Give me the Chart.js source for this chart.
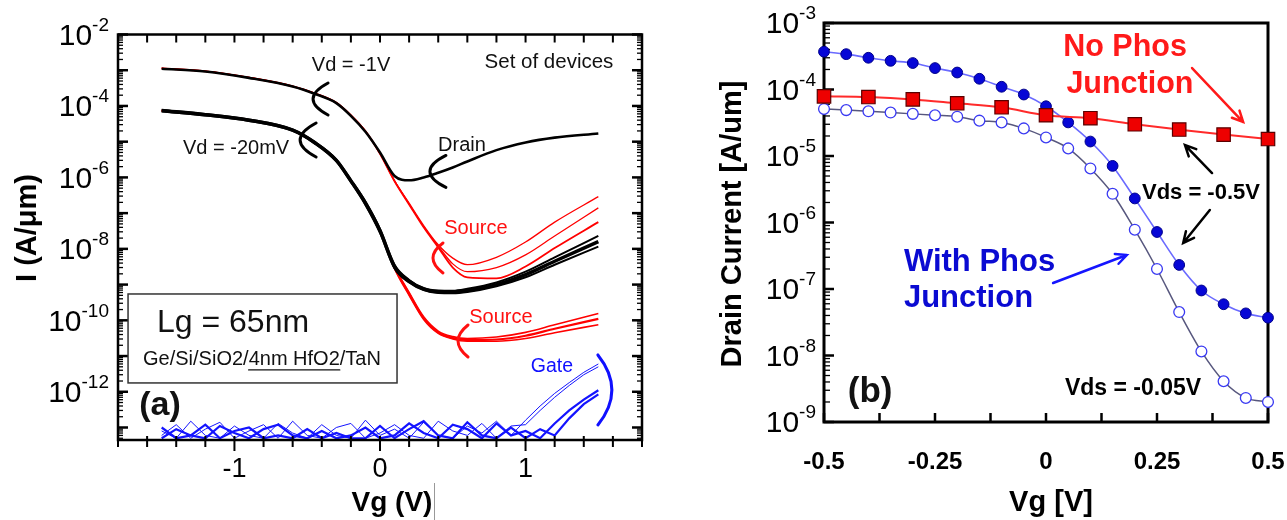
<!DOCTYPE html>
<html>
<head>
<meta charset="utf-8">
<script src="https://cdn.jsdelivr.net/npm/chart.js@4.4.1/dist/chart.umd.min.js"></script>
<style>
    html, body { margin: 0; padding: 0; background: #fff; }
    #wrap { position: relative; width: 1287px; height: 520px; overflow: hidden; }
    #boxA { position: absolute; left: 0; top: 0; width: 665px; height: 520px; }
    #boxB { position: absolute; left: 665px; top: 0; width: 622px; height: 520px; }
</style>
</head>
<body>
<div id="wrap">
    <div id="boxA"><canvas id="chartA"></canvas></div>
    <div id="boxB"><canvas id="chartB"></canvas></div>
</div>
<script>
// ─── Panel (a): Id / Is / Ig vs Vg, set of devices ───────────────────────
const vgA = [-1.5, -1.2, -0.9, -0.6, -0.45, -0.3, -0.2, -0.1, 0, 0.1, 0.2, 0.3, 0.4, 0.5, 0.6, 0.8, 1.0, 1.2, 1.5];

const drain1V      = [1.1e-3, 9.2e-4, 6.1e-4, 3.5e-4, 2.2e-4, 1.2e-4, 5.3e-5, 1.9e-5, 5.0e-6, 1.1e-6, 8.3e-7, 1.0e-6, 1.35e-6, 1.9e-6, 2.8e-6, 5.8e-6, 9.5e-6, 1.3e-5, 1.7e-5];
const source1Vhi   = [1.15e-3, 9.5e-4, 6.3e-4, 3.6e-4, 2.3e-4, 1.25e-4, 5.6e-5, 2.0e-5, 4.8e-6, 8.0e-7, 1.9e-7, 4.5e-8, 1.3e-8, 5.5e-9, 3.6e-9, 5.8e-9, 1.55e-8, 5.6e-8, 2.9e-7];
const source1Vmid  = [1.12e-3, 9.3e-4, 6.2e-4, 3.55e-4, 2.25e-4, 1.22e-4, 5.4e-5, 1.95e-5, 4.6e-6, 8.0e-7, 1.8e-7, 4.2e-8, 1.2e-8, 3.8e-9, 2.3e-9, 3.0e-9, 6.8e-9, 2.3e-8, 1.4e-7];
const source1Vlo   = [1.12e-3, 9.3e-4, 6.2e-4, 3.55e-4, 2.25e-4, 1.22e-4, 5.4e-5, 1.95e-5, 4.6e-6, 7.8e-7, 1.75e-7, 4.0e-8, 1.1e-8, 3.0e-9, 1.6e-9, 1.5e-9, 3.2e-9, 1.05e-8, 5.6e-8];

const drain20mV    = [7.4e-5, 5.7e-5, 4.0e-5, 2.1e-5, 9.5e-6, 3.0e-6, 8.0e-7, 1.9e-7, 3.2e-8, 3.2e-9, 1.25e-9, 7.5e-10, 6.3e-10, 6.2e-10, 6.8e-10, 1.0e-9, 1.9e-9, 4.5e-9, 1.6e-8];
const drain20mVlo  = [7.0e-5, 5.4e-5, 3.8e-5, 2.0e-5, 9.0e-6, 2.8e-6, 7.4e-7, 1.7e-7, 2.8e-8, 2.8e-9, 1.15e-9, 7.0e-10, 5.8e-10, 5.7e-10, 6.2e-10, 9.0e-10, 1.6e-9, 3.6e-9, 1.15e-8];
const drain20mVhi  = [7.8e-5, 6.0e-5, 4.2e-5, 2.2e-5, 1.0e-5, 3.2e-6, 8.6e-7, 2.1e-7, 3.6e-8, 3.6e-9, 1.35e-9, 8.0e-10, 6.8e-10, 6.7e-10, 7.6e-10, 1.15e-9, 2.3e-9, 5.8e-9, 2.3e-8];

const source20mVhi  = [7.4e-5, 5.7e-5, 4.0e-5, 2.1e-5, 9.5e-6, 3.0e-6, 8.0e-7, 1.9e-7, 3.2e-8, 3.2e-9, 6.0e-10, 1.25e-10, 5.0e-11, 3.5e-11, 3.1e-11, 3.4e-11, 4.6e-11, 7.5e-11, 1.55e-10];
const source20mVmid = [7.4e-5, 5.7e-5, 4.0e-5, 2.1e-5, 9.5e-6, 3.0e-6, 8.0e-7, 1.9e-7, 3.2e-8, 3.0e-9, 5.5e-10, 1.15e-10, 4.6e-11, 3.2e-11, 2.8e-11, 2.9e-11, 3.7e-11, 5.8e-11, 1.1e-10];
const source20mVlo  = [7.4e-5, 5.7e-5, 4.0e-5, 2.1e-5, 9.5e-6, 3.0e-6, 8.0e-7, 1.9e-7, 3.2e-8, 2.8e-9, 5.0e-10, 1.05e-10, 4.3e-11, 3.0e-11, 2.6e-11, 2.6e-11, 3.1e-11, 4.5e-11, 7.5e-11];

const vgGate     = [-1.5, -1.4, -1.3, -1.2, -1.1, -1.0, -0.9, -0.8, -0.7, -0.6, -0.5, -0.4, -0.3, -0.2, -0.1, 0, 0.1, 0.2, 0.3, 0.4, 0.5, 0.6, 0.7, 0.8, 0.9, 1.0, 1.1, 1.2, 1.3, 1.4, 1.5];
const gateThin1  = [8e-14, 5e-14, 1.5e-13, 6e-14, 5e-14, 1.1e-13, 6e-14, 5e-14, 1.3e-13, 7e-14, 5e-14, 1.2e-13, 6e-14, 5e-14, 1.6e-13, 6e-14, 9e-14, 5e-14, 1.4e-13, 6e-14, 5e-14, 1.1e-13, 7e-14, 1.5e-13, 6e-14, 1.6e-13, 4e-13, 9e-13, 1.8e-12, 3.5e-12, 6e-12];
const gateThin2  = [6e-14, 1.2e-13, 5e-14, 9e-14, 1.4e-13, 5e-14, 8e-14, 1.2e-13, 5e-14, 1.5e-13, 6e-14, 5e-14, 1.0e-13, 1.3e-13, 5e-14, 7e-14, 1.2e-13, 6e-14, 5e-14, 1.5e-13, 8e-14, 6e-14, 1.3e-13, 5e-14, 1.1e-13, 1.2e-13, 3e-13, 7e-13, 1.5e-12, 3e-12, 5e-12];
const gateThick1 = [5e-14, 9e-14, 6e-14, 5e-14, 1.1e-13, 7e-14, 5e-14, 9e-14, 1.2e-13, 6e-14, 5e-14, 8e-14, 5e-14, 6e-14, 1.0e-13, 5e-14, 6e-14, 1.3e-13, 7e-14, 5e-14, 1.2e-13, 9e-14, 5e-14, 1.3e-13, 6e-14, 8e-14, 5e-14, 1.3e-13, 3e-13, 6e-13, 1.1e-12];
const gateThick2 = [1.0e-13, 5e-14, 6e-14, 1.2e-13, 5e-14, 8e-14, 1.0e-13, 5e-14, 6e-14, 5e-14, 9e-14, 5e-14, 7e-14, 5e-14, 5e-14, 1.1e-13, 5e-14, 9e-14, 1.5e-13, 6e-14, 5e-14, 1.4e-13, 6e-14, 5e-14, 1.0e-13, 5e-14, 9e-14, 6e-14, 1.8e-13, 4.5e-13, 8.5e-13];

const xTickLabelsA = [-1, 0, 1];
const yTickExpA    = [-2, -4, -6, -8, -10, -12];

// ─── Panel (b): drain current, with / without phos junction ───────────────
const vgB          = [-0.5, -0.45, -0.4, -0.35, -0.3, -0.25, -0.2, -0.15, -0.1, -0.05, 0, 0.05, 0.1, 0.15, 0.2, 0.25, 0.3, 0.35, 0.4, 0.45, 0.5];
const withPhos05   = [3.7e-4, 3.4e-4, 3.0e-4, 2.7e-4, 2.5e-4, 2.1e-4, 1.8e-4, 1.45e-4, 1.1e-4, 8.4e-5, 5.6e-5, 3.2e-5, 1.65e-5, 7.1e-6, 2.3e-6, 7.2e-7, 2.3e-7, 9.5e-8, 5.9e-8, 4.3e-8, 3.7e-8];
const withPhos005  = [5.1e-5, 4.9e-5, 4.7e-5, 4.5e-5, 4.3e-5, 4.1e-5, 3.9e-5, 3.4e-5, 3.2e-5, 2.6e-5, 1.9e-5, 1.3e-5, 6.5e-6, 2.7e-6, 7.8e-7, 2.0e-7, 4.5e-8, 1.15e-8, 4.1e-9, 2.3e-9, 2.0e-9];
const vgNoPhos     = [-0.5, -0.4, -0.3, -0.2, -0.1, 0, 0.1, 0.2, 0.3, 0.4, 0.5];
const noPhos05     = [7.9e-5, 7.7e-5, 7.1e-5, 6.2e-5, 5.4e-5, 4.1e-5, 3.7e-5, 3.0e-5, 2.5e-5, 2.1e-5, 1.8e-5];

const xTickLabelsB = ['-0.5', '-0.25', '0', '0.25', '0.5'];
const yTickExpB    = [-3, -4, -5, -6, -7, -8, -9];

// ─── Drawing helpers ──────────────────────────────────────────────────────
const FONT = '"Liberation Sans", Arial, sans-serif';

function pts(xs, ys) {
    return xs.map((x, i) => ({ x, y: ys[i] }));
}

/** Pixel position of (Vg, 10^e) on a chart's own scales */
function at(chart, vx, e) {
    return {
        x: chart.scales.x.getPixelForValue(vx),
        y: chart.scales.y.getPixelForValue(Math.pow(10, e))
    };
}

function label(ctx, s, p, font, color, align) {
    ctx.font = font;
    ctx.fillStyle = color;
    ctx.textAlign = align || 'center';
    ctx.textBaseline = 'middle';
    ctx.fillText(s, p.x, p.y);
}

/** "10" with superscript exponent, right aligned at xr */
function powLabel(ctx, xr, y, exp, base, sup) {
    const s = String(exp);
    ctx.font = `${sup}px ${FONT}`;
    const ws = ctx.measureText(s).width;
    ctx.font = `${base}px ${FONT}`;
    const wb = ctx.measureText('10').width;
    ctx.fillStyle = '#000';
    ctx.textAlign = 'left';
    ctx.textBaseline = 'middle';
    ctx.fillText('10', xr - ws - wb, y + 2);
    ctx.font = `${sup}px ${FONT}`;
    ctx.fillText(s, xr - ws, y - 9);
}

function arrow(ctx, a, b, color, w) {
    ctx.strokeStyle = color;
    ctx.lineWidth = w;
    ctx.lineCap = 'round';
    ctx.beginPath();
    ctx.moveTo(a.x, a.y);
    ctx.lineTo(b.x, b.y);
    const ang = Math.atan2(b.y - a.y, b.x - a.x);
    const hl = 12;
    ctx.moveTo(b.x - hl * Math.cos(ang - 0.45), b.y - hl * Math.sin(ang - 0.45));
    ctx.lineTo(b.x, b.y);
    ctx.lineTo(b.x - hl * Math.cos(ang + 0.45), b.y - hl * Math.sin(ang + 0.45));
    ctx.stroke();
}

/** Curly "(" marker; dir = -1 flips it into ")" */
function bracket(ctx, p, h, w, dir, color) {
    ctx.strokeStyle = color;
    ctx.lineWidth = 3;
    ctx.lineCap = 'round';
    ctx.beginPath();
    ctx.moveTo(p.x + dir * w, p.y - h);
    ctx.quadraticCurveTo(p.x - dir * w, p.y, p.x + dir * w, p.y + h);
    ctx.stroke();
}

function logTicks(ctx, chart, xEdge, dir, majLen, minLen) {
    const y = chart.scales.y;
    for (let e = -14; e <= -2; e++) {
        for (let m = 1; m <= 9; m++) {
            const v = m * Math.pow(10, e);
            if (v < y.min * 0.999 || v > y.max * 1.001) continue;
            const py = y.getPixelForValue(v);
            ctx.lineWidth = m === 1 ? 2.5 : 1.3;
            ctx.beginPath();
            ctx.moveTo(xEdge, py);
            ctx.lineTo(xEdge + dir * (m === 1 ? majLen : minLen), py);
            ctx.stroke();
        }
    }
}

// ─── Panel (a) plugin: frame, ticks, labels, notes ────────────────────────
const panelA = {
    id: 'panelA',
    afterDatasetsDraw(chart) {
        const { ctx, chartArea: a, scales: { x } } = chart;
        ctx.save();
        ctx.strokeStyle = '#000';

        // Ticks
        ctx.lineCap = 'butt';
        logTicks(ctx, chart, a.left, 1, 10, 5);
        logTicks(ctx, chart, a.right, -1, 10, 5);
        for (let i = -9; i <= 9; i++) {
            const px = x.getPixelForValue(i * 0.2);
            const major = i % 5 === 0;
            ctx.lineWidth = 2;
            ctx.beginPath();
            ctx.moveTo(px, a.bottom - 4);
            ctx.lineTo(px, a.bottom + (major ? 11 : 7));
            ctx.moveTo(px, a.top);
            ctx.lineTo(px, a.top + 8);
            ctx.stroke();
        }

        // Frame
        ctx.lineWidth = 2.5;
        ctx.strokeRect(a.left, a.top, a.right - a.left, a.bottom - a.top);

        // Tick labels
        xTickLabelsA.forEach(v => {
            label(ctx, String(v), { x: x.getPixelForValue(v), y: 470 }, `27px ${FONT}`, '#000');
        });
        yTickExpA.forEach(e => {
            powLabel(ctx, a.left - 9, chart.scales.y.getPixelForValue(Math.pow(10, e)), e, 30, 19);
        });

        // Axis titles
        label(ctx, 'Vg (V)', { x: 392, y: 503 }, `bold 28px ${FONT}`, '#000');
        ctx.strokeStyle = '#999';
        ctx.lineWidth = 1;
        ctx.beginPath();
        ctx.moveTo(434.5, 483);
        ctx.lineTo(434.5, 520);
        ctx.stroke();
        ctx.save();
        ctx.translate(28, 228);
        ctx.rotate(-Math.PI / 2);
        label(ctx, 'I (A/μm)', { x: 0, y: 0 }, `bold 29px ${FONT}`, '#000');
        ctx.restore();

        // Notes
        const f20 = `20px ${FONT}`;
        label(ctx, 'Set of devices', at(chart, 1.161, -2.77), `20.5px ${FONT}`, '#111');
        label(ctx, 'Vd = -1V', at(chart, -0.199, -2.854), f20, '#111');
        label(ctx, 'Vd = -20mV', at(chart, -0.989, -5.177), f20, '#111');
        label(ctx, 'Drain', at(chart, 0.563, -5.093), f20, '#111');
        label(ctx, 'Source', at(chart, 0.659, -7.416), f20, '#ff1010');
        label(ctx, 'Source', at(chart, 0.831, -9.907), f20, '#ff1010');
        label(ctx, 'Gate', at(chart, 1.181, -11.306), `19.5px ${FONT}`, '#1010ff');
        label(ctx, '(a)', at(chart, -1.511, -12.374), `bold 34px ${FONT}`, '#111');

        bracket(ctx, at(chart, -0.46, -3.805), 16, 15, 1, '#000');
        bracket(ctx, at(chart, -0.549, -4.953), 17, 16, 1, '#000');
        bracket(ctx, at(chart, 0.343, -5.833), 16, 16, 1, '#000');
        bracket(ctx, at(chart, 0.364, -8.255), 15, 10, 1, '#ff1010');
        bracket(ctx, at(chart, 0.536, -10.578), 16, 10, 1, '#ff1010');
        bracket(ctx, at(chart, 1.593, -11.949), 35, 14, -1, '#1010ff');

        // Device box
        const b0 = at(chart, -1.731, -9.263);
        const b1 = at(chart, 0.117, -11.753);
        ctx.fillStyle = '#fff';
        ctx.fillRect(b0.x, b0.y, b1.x - b0.x, b1.y - b0.y);
        ctx.strokeStyle = '#333';
        ctx.lineWidth = 1.5;
        ctx.strokeRect(b0.x, b0.y, b1.x - b0.x, b1.y - b0.y);
        label(ctx, 'Lg = 65nm', at(chart, -1.532, -10.074), `32px ${FONT}`, '#111', 'left');
        const sp = at(chart, -1.628, -11.11);
        const pre = 'Ge/Si/SiO2/', mid = '4nm HfO2', post = '/TaN';
        ctx.font = `20px ${FONT}`;
        const w0 = ctx.measureText(pre).width;
        const w1 = ctx.measureText(mid).width;
        label(ctx, pre + mid + post, sp, `20px ${FONT}`, '#111', 'left');
        ctx.strokeStyle = '#111';
        ctx.lineWidth = 1.3;
        ctx.beginPath();
        ctx.moveTo(sp.x + w0, sp.y + 10);
        ctx.lineTo(sp.x + w0 + w1, sp.y + 10);
        ctx.stroke();

        ctx.restore();
    }
};

// ─── Panel (b) plugins ────────────────────────────────────────────────────
const frameB = {
    id: 'frameB',
    beforeDatasetsDraw(chart) {
        const { ctx, chartArea: a, scales: { x } } = chart;
        ctx.save();
        ctx.strokeStyle = '#000';
        logTicks(ctx, chart, a.left, 1, 10, 6);
        for (let i = -4; i <= 4; i++) {
            const px = x.getPixelForValue(i * 0.125);
            ctx.lineWidth = 2.5;
            ctx.beginPath();
            ctx.moveTo(px, a.bottom);
            ctx.lineTo(px, a.bottom - 9);
            ctx.stroke();
        }
        ctx.lineWidth = 3;
        ctx.strokeRect(a.left, a.top, a.right - a.left, a.bottom - a.top);
        ctx.restore();
    },
    afterDatasetsDraw(chart) {
        const { ctx, chartArea: a, scales: { x, y } } = chart;
        ctx.save();

        xTickLabelsB.forEach(s => {
            label(ctx, s, { x: x.getPixelForValue(parseFloat(s)), y: 462 }, `bold 24px ${FONT}`, '#000');
        });
        yTickExpB.forEach(e => {
            powLabel(ctx, a.left - 8, y.getPixelForValue(Math.pow(10, e)), e, 30, 19);
        });

        label(ctx, 'Vg [V]', { x: (a.left + a.right) / 2 + 5, y: 503 }, `bold 29px ${FONT}`, '#000');
        ctx.save();
        ctx.translate(68, 224);
        ctx.rotate(-Math.PI / 2);
        label(ctx, 'Drain Current [A/um]', { x: 0, y: 0 }, `bold 29px ${FONT}`, '#000');
        ctx.restore();

        const red = '#ff1a1a', blue = '#0a0ad2';
        label(ctx, 'No Phos', at(chart, 0.178, -3.376), `bold 30.5px ${FONT}`, red);
        label(ctx, 'Junction', at(chart, 0.189, -3.932), `bold 30.5px ${FONT}`, red);
        arrow(ctx, at(chart, 0.329, -3.677), at(chart, 0.444, -4.489), red, 2.5);

        label(ctx, 'Vds = -0.5V', at(chart, 0.349, -5.556), `bold 22px ${FONT}`, '#000');
        arrow(ctx, at(chart, 0.374, -5.256), at(chart, 0.313, -4.835), '#000', 2.5);
        arrow(ctx, at(chart, 0.369, -5.812), at(chart, 0.309, -6.308), '#000', 2.5);

        label(ctx, 'With Phos', at(chart, -0.32, -6.594), `bold 31px ${FONT}`, blue, 'left');
        label(ctx, 'Junction', at(chart, -0.32, -7.135), `bold 31px ${FONT}`, blue, 'left');
        arrow(ctx, at(chart, 0.016, -6.91), at(chart, 0.182, -6.489), '#1515ff', 2.5);

        label(ctx, 'Vds = -0.05V', at(chart, 0.196, -8.504), `bold 23px ${FONT}`, '#000');
        label(ctx, '(b)', at(chart, -0.396, -8.549), `bold 35px ${FONT}`, '#111');

        ctx.restore();
    }
};

// ─── Charts ───────────────────────────────────────────────────────────────
function curve(xs, ys, color, width, order) {
    return {
        data: pts(xs, ys),
        borderColor: color,
        borderWidth: width,
        pointRadius: 0,
        cubicInterpolationMode: 'monotone',
        order
    };
}

function gate(ys, width) {
    return { data: pts(vgGate, ys), borderColor: '#1414ff', borderWidth: width, pointRadius: 0, tension: 0, order: 20 };
}

new Chart(document.getElementById('chartA'), {
    type: 'line',
    data: {
        datasets: [
            curve(vgA, drain1V, '#000', 2.6, 1),
            curve(vgA, source1Vhi, '#ff0000', 1.3, 5),
            curve(vgA, source1Vmid, '#ff0000', 1.3, 5),
            curve(vgA, source1Vlo, '#ff0000', 1.8, 5),
            curve(vgA, drain20mV, '#000', 3.5, 2),
            curve(vgA, drain20mVlo, '#000', 2, 2),
            curve(vgA, drain20mVhi, '#000', 2, 2),
            curve(vgA, source20mVhi, '#ff0000', 1.6, 6),
            curve(vgA, source20mVmid, '#ff0000', 2.2, 6),
            curve(vgA, source20mVlo, '#ff0000', 1.6, 6),
            gate(gateThin1, 1),
            gate(gateThin2, 1),
            gate(gateThick1, 2.2),
            gate(gateThick2, 2.2)
        ]
    },
    options: {
        responsive: true,
        maintainAspectRatio: false,
        animation: false,
        layout: { padding: { left: 118, right: 23, top: 34.5, bottom: 80 } },
        plugins: { legend: { display: false }, tooltip: { enabled: false } },
        scales: {
            x: { type: 'linear', min: -1.8, max: 1.8, display: false },
            y: { type: 'logarithmic', min: Math.pow(10, -13.35), max: 1e-2, display: false }
        }
    },
    plugins: [panelA]
});

new Chart(document.getElementById('chartB'), {
    type: 'line',
    data: {
        datasets: [
            {
                data: pts(vgNoPhos, noPhos05),
                borderColor: '#ff2a2a',
                borderWidth: 2,
                pointStyle: 'rect',
                pointRadius: 9.5,
                pointBackgroundColor: '#ee0000',
                pointBorderColor: '#5a0000',
                pointBorderWidth: 1.2,
                cubicInterpolationMode: 'monotone',
                clip: false,
                order: 1
            },
            {
                data: pts(vgB, withPhos05),
                borderColor: '#6a6aff',
                borderWidth: 1.6,
                pointRadius: 5.4,
                pointBackgroundColor: '#0606d6',
                pointBorderColor: '#00008a',
                pointBorderWidth: 1,
                cubicInterpolationMode: 'monotone',
                clip: false,
                order: 2
            },
            {
                data: pts(vgB, withPhos005),
                borderColor: '#57577e',
                borderWidth: 1.5,
                pointRadius: 5.4,
                pointBackgroundColor: '#fff',
                pointBorderColor: '#3a3af2',
                pointBorderWidth: 1.3,
                cubicInterpolationMode: 'monotone',
                clip: false,
                order: 3
            }
        ]
    },
    options: {
        responsive: true,
        maintainAspectRatio: false,
        animation: false,
        layout: { padding: { left: 159, right: 19, top: 23, bottom: 98 } },
        plugins: { legend: { display: false }, tooltip: { enabled: false } },
        scales: {
            x: { type: 'linear', min: -0.5, max: 0.5, display: false },
            y: { type: 'logarithmic', min: 1e-9, max: 1e-3, display: false }
        }
    },
    plugins: [frameB]
});
</script>
</body>
</html>
